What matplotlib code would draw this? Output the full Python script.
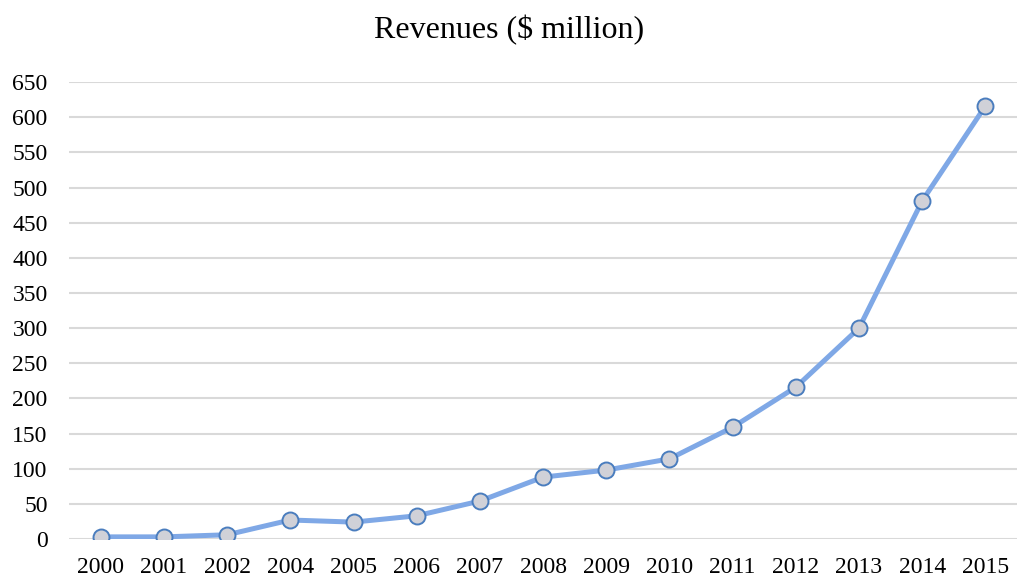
import matplotlib
matplotlib.use("Agg")
import matplotlib.pyplot as plt

# Revenue data (2003 is absent in the source)
years = ["2000", "2001", "2002", "2004", "2005", "2006", "2007", "2008",
         "2009", "2010", "2011", "2012", "2013", "2014", "2015"]
revenues = [3, 3, 6, 27, 24, 33, 54, 88, 98, 114, 159, 216, 300, 481, 616]
yticks = list(range(0, 651, 50))

plt.rcParams["font.family"] = ["Liberation Serif", "DejaVu Serif"]

fig = plt.figure(figsize=(10.18, 5.78), dpi=100)
ax = fig.add_axes([0.068, 0.0675, 0.931, 0.7905])

x = range(len(years))
ax.plot(x, revenues, color="#7FA8E6", linewidth=3.6, solid_capstyle="round",
        marker="o", markersize=11.5, markerfacecolor="#D0D1D8",
        markeredgecolor="#4A7DBE", markeredgewidth=1.4, zorder=3)

ax.set_xlim(-0.5, len(years) - 0.5)
ax.set_ylim(0, 650)
ax.set_xticks(list(x))
ax.set_xticklabels(years)
ax.set_yticks(yticks)
ax.tick_params(axis="both", length=0, labelsize=17)
ax.tick_params(axis="y", pad=15.5)
ax.tick_params(axis="x", pad=13)
ax.yaxis.grid(True, color="#D9D9D9", linewidth=1.5)
ax.set_axisbelow(True)
for s in ax.spines.values():
    s.set_visible(False)

fig.suptitle("Revenues ($ million)", y=0.975, fontsize=23)

fig.savefig("out.png", dpi=100)
